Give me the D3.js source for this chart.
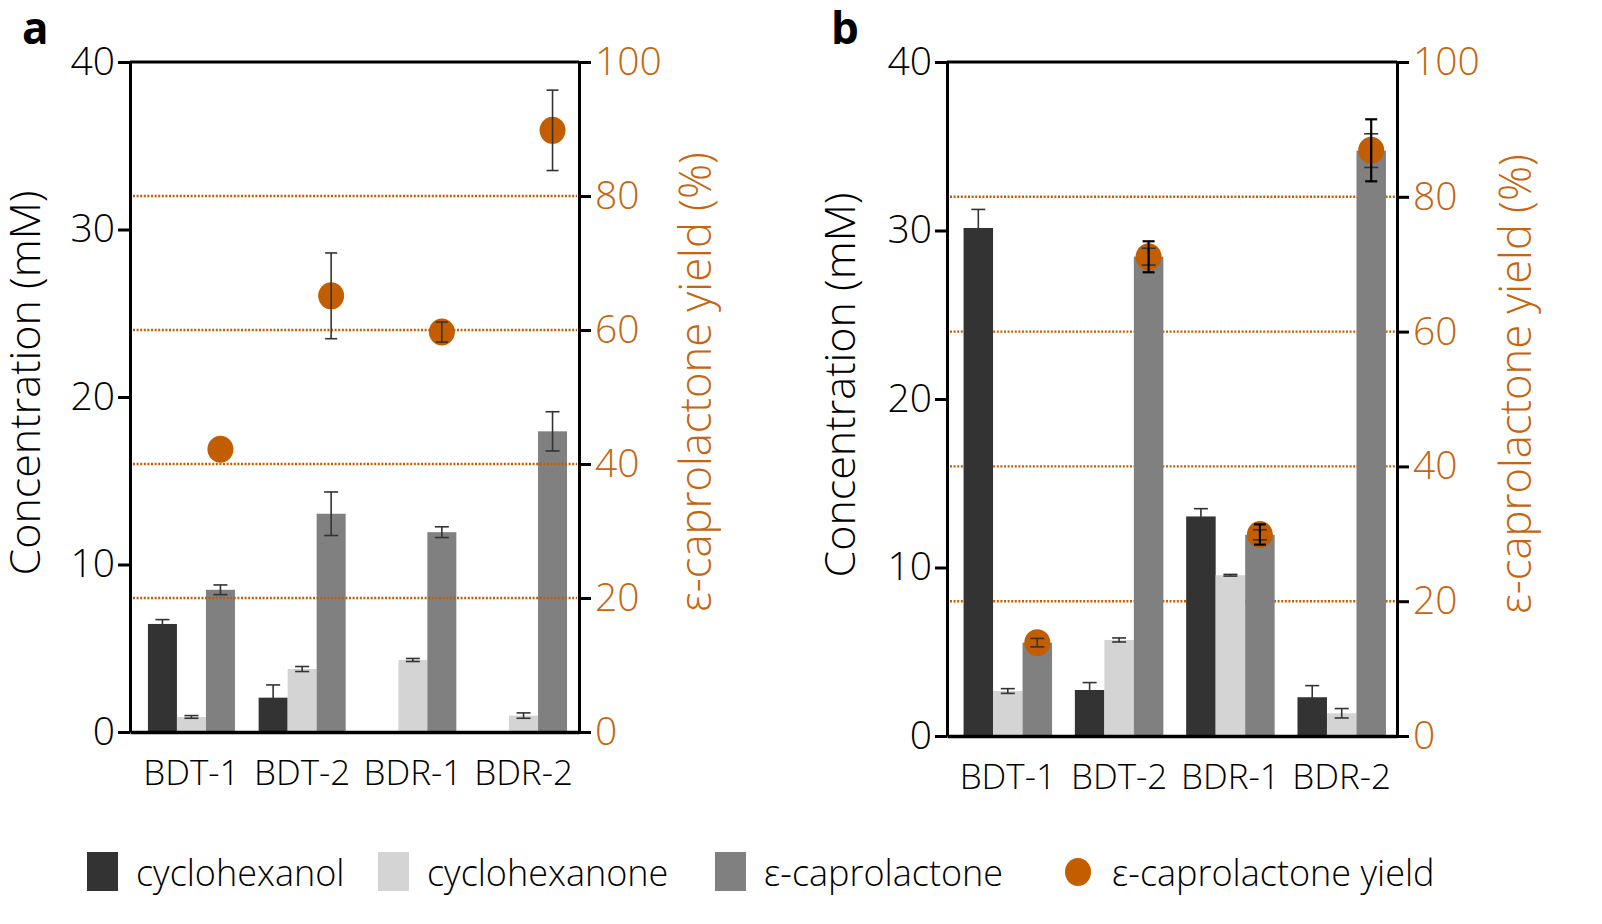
<!DOCTYPE html>
<html><head><meta charset="utf-8">
<script src="https://cdn.jsdelivr.net/npm/d3@7/dist/d3.min.js"></script>
<style>
html,body{margin:0;padding:0;background:#fff;}
svg text{font-family:"Open Sans",Lato,sans-serif;}
</style></head>
<body>
<svg id="chart" width="1602" height="924"></svg>
<script>
// ---------- data ----------
const categories = ["BDT-1", "BDT-2", "BDR-1", "BDR-2"];
const seriesNames = ["cyclohexanol", "cyclohexanone", "ε-caprolactone"];
const yieldName = "ε-caprolactone yield";
const leftTicks = [0, 10, 20, 30, 40];
const rightTicks = [0, 20, 40, 60, 80, 100];
const gridTicks = [20, 40, 60, 80];

// panel a
const aCyclohexanol = [6.45, 2.05, 0, 0];
const aCyclohexanolErr = [0.26, 0.76, 0, 0];
const aCyclohexanone = [0.9, 3.76, 4.3, 0.98];
const aCyclohexanoneErr = [0.08, 0.15, 0.09, 0.16];
const aCaprolactone = [8.49, 13.03, 11.93, 17.95];
const aCaprolactoneErr = [0.29, 1.3, 0.32, 1.17];
const aYield = [42.2, 65.1, 59.7, 89.8];
const aYieldErr = [0, 6.4, 1.5, 6.0];

// panel b
const bCyclohexanol = [30.15, 2.73, 13.03, 2.3];
const bCyclohexanolErr = [1.1, 0.44, 0.46, 0.69];
const bCyclohexanone = [2.67, 5.7, 9.54, 1.35];
const bCyclohexanoneErr = [0.14, 0.12, 0.05, 0.28];
const bCaprolactone = [5.54, 28.45, 11.94, 34.74];
const bCaprolactoneErr = [0.25, 0.5, 0.3, 1.0];
const bYield = [13.85, 71.1, 29.9, 86.9];
const bYieldErr = [0, 2.3, 1.5, 4.6];

// ---------- style ----------
const barColors = ["#333333", "#d4d4d4", "#808080"];
const orange = "#c25e00";
const orangeText = "#c5650f";

const svg = d3.select("#chart");

const panels = [
  {label: "a", labelX: 22, left: 130, right: 579, top: 62, bottom: 732,
   pInner: 0.214, pOuter: 0.135, align: 0.6,
   bars: [aCyclohexanol, aCyclohexanone, aCaprolactone],
   errs: [aCyclohexanolErr, aCyclohexanoneErr, aCaprolactoneErr],
   yld: aYield, yldErr: aYieldErr, gridOnTop: true,
   yErrColor: "#333", yErrWidth: 1.6,
   leftTitleX: 25, rightTitleX: 695, catY: 785},
  {label: "b", labelX: 831, left: 947, right: 1397, top: 62, bottom: 736,
   pInner: 0.205, pOuter: 0.124, align: 0.6,
   bars: [bCyclohexanol, bCyclohexanone, bCaprolactone],
   errs: [bCyclohexanolErr, bCyclohexanoneErr, bCaprolactoneErr],
   yld: bYield, yldErr: bYieldErr, gridOnTop: false,
   yErrColor: "#000", yErrWidth: 2.2,
   leftTitleX: 840, rightTitleX: 1515, catY: 789}
];

panels.forEach(p => {
  const g = svg.append("g");
  const x0 = d3.scaleBand().domain(categories).range([p.left, p.right])
    .paddingInner(p.pInner).paddingOuter(p.pOuter).align(p.align);
  const x1 = d3.scaleBand().domain(seriesNames).range([0, x0.bandwidth()]);
  const yL = d3.scaleLinear().domain([0, 40]).range([p.bottom, p.top]);
  const yR = d3.scaleLinear().domain([0, 100]).range([p.bottom, p.top]);

  const drawGrid = () => {
    g.append("g").selectAll("line").data(gridTicks).join("line")
      .attr("x1", p.left + 3).attr("x2", p.right - 2)
      .attr("y1", d => yR(d)).attr("y2", d => yR(d))
      .attr("stroke", orange).attr("stroke-width", 2.4)
      .attr("stroke-dasharray", "2,1.6");
  };
  if (!p.gridOnTop) drawGrid();

  // bars
  const barData = [];
  const errData = [];
  categories.forEach((c, i) => {
    seriesNames.forEach((s, j) => {
      barData.push({c, s, v: p.bars[j][i], color: barColors[j]});
      if (p.bars[j][i] > 0) errData.push({c, s, v: p.bars[j][i], e: p.errs[j][i]});
    });
  });
  g.append("g").selectAll("rect").data(barData).join("rect")
    .attr("x", d => x0(d.c) + x1(d.s))
    .attr("width", x1.bandwidth())
    .attr("y", d => yL(d.v))
    .attr("height", d => yL(0) - yL(d.v))
    .attr("fill", d => d.color);

  if (p.gridOnTop) drawGrid();

  // yield circles
  const yData = categories.map((c, i) => ({c, v: p.yld[i], e: p.yldErr[i]}));
  const cx = c => x0(c) + x1("ε-caprolactone") + x1.bandwidth() / 2;
  g.append("g").selectAll("ellipse").data(yData).join("ellipse")
    .attr("cx", d => cx(d.c)).attr("cy", d => yR(d.v))
    .attr("rx", 13).attr("ry", 13.5).attr("fill", orange);

  // bar error bars
  const eg = g.append("g").attr("stroke", "#333").attr("stroke-width", 1.6).attr("fill", "none");
  errData.filter(d => d.e > 0).forEach(d => {
    const xc = x0(d.c) + x1(d.s) + x1.bandwidth() / 2;
    const cw = 7;
    const y1 = yL(d.v + d.e), y2 = yL(d.v - d.e);
    eg.append("line").attr("x1", xc).attr("x2", xc).attr("y1", y1).attr("y2", y2);
    eg.append("line").attr("x1", xc - cw).attr("x2", xc + cw).attr("y1", y1).attr("y2", y1);
    eg.append("line").attr("x1", xc - cw).attr("x2", xc + cw).attr("y1", y2).attr("y2", y2);
  });

  // yield error bars
  const yg = g.append("g").attr("stroke", p.yErrColor).attr("stroke-width", p.yErrWidth).attr("fill", "none");
  yData.filter(d => d.e > 0).forEach(d => {
    const xc = cx(d.c);
    const cw = 6;
    const y1 = yR(d.v + d.e), y2 = yR(d.v - d.e);
    yg.append("line").attr("x1", xc).attr("x2", xc).attr("y1", y1).attr("y2", y2);
    yg.append("line").attr("x1", xc - cw).attr("x2", xc + cw).attr("y1", y1).attr("y2", y1);
    yg.append("line").attr("x1", xc - cw).attr("x2", xc + cw).attr("y1", y2).attr("y2", y2);
  });

  // axes
  const axL = g.append("g").attr("transform", `translate(${p.left},0)`)
    .call(d3.axisLeft(yL).tickValues(leftTicks).tickSize(12).tickPadding(3).tickSizeOuter(0));
  axL.select(".domain").attr("stroke", "#000").attr("stroke-width", 3);
  axL.selectAll(".tick line").attr("stroke", "#000").attr("stroke-width", 3);
  axL.selectAll(".tick text").attr("font-size", 39).attr("fill", "#000")
    .attr("font-family", "'Open Sans', sans-serif").attr("font-weight", 300);

  const axR = g.append("g").attr("transform", `translate(${p.right},0)`)
    .call(d3.axisRight(yR).tickValues(rightTicks).tickSize(12).tickPadding(4).tickSizeOuter(0));
  axR.select(".domain").attr("stroke", "#000").attr("stroke-width", 3);
  axR.selectAll(".tick line").attr("stroke", "#000").attr("stroke-width", 3);
  axR.selectAll(".tick text").attr("font-size", 39).attr("fill", orangeText)
    .attr("font-family", "'Open Sans', sans-serif").attr("font-weight", 300);

  const axB = g.append("g").attr("transform", `translate(0,${p.bottom})`)
    .call(d3.axisBottom(x0).tickSize(0).tickSizeOuter(0).tickPadding(0));
  axB.select(".domain").attr("stroke", "#000").attr("stroke-width", 3.5);
  axB.selectAll(".tick text").attr("font-size", 35).attr("fill", "#000")
    .attr("font-family", "'Open Sans', sans-serif").attr("font-weight", 300)
    .attr("dy", null).attr("y", p.catY - p.bottom);

  // top frame
  g.append("line").attr("x1", p.left).attr("x2", p.right)
    .attr("y1", p.top).attr("y2", p.top).attr("stroke", "#000").attr("stroke-width", 3);

  // titles
  g.append("text")
    .attr("transform", `translate(${p.leftTitleX},${(p.top + p.bottom) / 2 - 14}) rotate(-90)`)
    .attr("text-anchor", "middle").attr("dy", "0.36em")
    .attr("font-size", 43).attr("font-weight", 300).attr("fill", "#000")
    .text("Concentration (mM)");
  g.append("text")
    .attr("transform", `translate(${p.rightTitleX},${(p.top + p.bottom) / 2 - 15}) rotate(-90)`)
    .attr("text-anchor", "middle").attr("dy", "0.36em")
    .attr("font-size", 43.5).attr("font-weight", 300).attr("fill", orangeText)
    .text("ε-caprolactone yield (%)");

  // panel label
  g.append("text").attr("x", p.labelX).attr("y", 44)
    .attr("font-family", "'Liberation Sans', Arial, sans-serif")
    .attr("font-weight", "bold").attr("font-size", 44).attr("fill", "#000")
    .text(p.label);
});

// legend
const legendItems = [
  {name: seriesNames[0], type: "rect", color: barColors[0], x: 87},
  {name: seriesNames[1], type: "rect", color: barColors[1], x: 378},
  {name: seriesNames[2], type: "rect", color: barColors[2], x: 715},
  {name: yieldName, type: "circle", color: orange, x: 1065}
];
const lg = svg.append("g");
legendItems.forEach(d => {
  if (d.type === "rect") {
    lg.append("rect").attr("x", d.x).attr("y", 852).attr("width", 31).attr("height", 39).attr("fill", d.color);
  } else {
    lg.append("ellipse").attr("cx", d.x + 13).attr("cy", 872).attr("rx", 13).attr("ry", 14).attr("fill", d.color);
  }
  lg.append("text").attr("x", d.type === "rect" ? d.x + 49 : d.x + 47).attr("y", 886)
    .attr("font-size", 36).attr("font-weight", 300).attr("fill", "#000").text(d.name);
});
</script>
</body></html>
